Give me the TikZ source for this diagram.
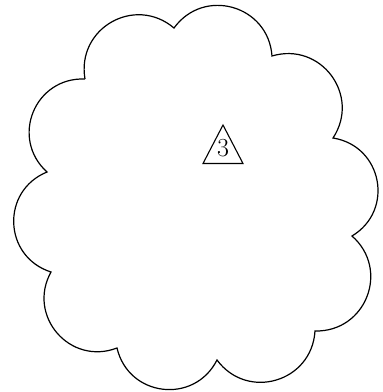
\documentclass[tikz,border=0pt]{standalone}
\begin{document}
\begin{tikzpicture}[x=1pt,y=-1pt,
  cloudline/.style={line width=1.2pt, line join=miter},
  lobe/.style={bend left=70, looseness=1.28},
  triline/.style={line width=1.1pt, line join=miter},
  numlabel/.style={inner sep=0pt, font=\fontsize{26}{26}\selectfont}]
\useasboundingbox (0,0) rectangle (383,392);
% cloud cusps (clockwise on screen)
\coordinate (c1) at (85,79);
\coordinate (c2) at (174,28);
\coordinate (c3) at (272,56);
\coordinate (c4) at (333,138);
\coordinate (c5) at (352,236);
\coordinate (c6) at (315,331);
\coordinate (c7) at (217,360);
\coordinate (c8) at (117,348);
\coordinate (c9) at (51,272);
\coordinate (c10) at (47,172);
\draw[cloudline] (c1) to[lobe] (c2) to[lobe] (c3) to[lobe] (c4) to[lobe] (c5)
  to[lobe] (c6) to[lobe] (c7) to[lobe] (c8) to[lobe] (c9) to[lobe] (c10)
  to[lobe] (c1);
% triangle with number
\coordinate (ta) at (223,125);
\coordinate (tl) at (203,163.5);
\coordinate (tr) at (243,163.5);
\draw[triline] (ta) -- (tl) -- (tr) -- cycle;
\node[numlabel] (num) at (223,148) {3};
\end{tikzpicture}
\end{document}
